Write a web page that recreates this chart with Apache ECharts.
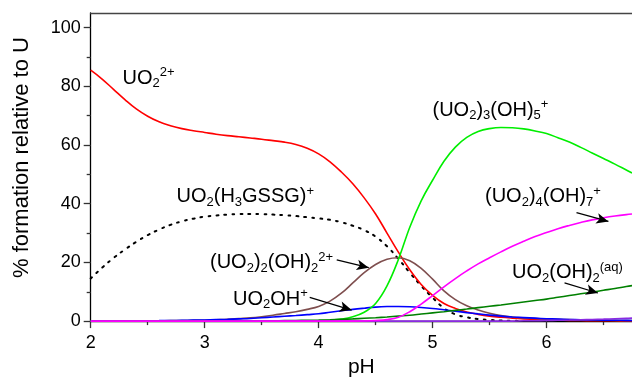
<!DOCTYPE html>
<html><head><meta charset="utf-8">
<script src="https://cdn.jsdelivr.net/npm/echarts@6/dist/echarts.min.js"></script>
<style>html,body{margin:0;padding:0;background:#fff}#c{width:632px;height:383px}</style>
</head><body><div id="c"></div>
<script>
// pH grid shared by all species
const pH = [2.0,2.1,2.2,2.3,2.4,2.5,2.6,2.7,2.8,2.9,
            3.0,3.1,3.2,3.3,3.4,3.5,3.6,3.7,3.8,3.9,
            4.0,4.1,4.2,4.3,4.4,4.5,4.6,4.7,4.8,4.9,
            5.0,5.1,5.2,5.3,5.4,5.5,5.6,5.7,5.8,5.9,
            6.0,6.1,6.2,6.3,6.4,6.5,6.6,6.7,6.75];
// % formation relative to U
const UO2 = [85.5,82.5,79,75.5,72.3,69.8,67.9,66.6,65.6,64.9,
             64.3,63.7,63.2,62.8,62.4,62,61.5,61,60.2,58.9,
             57,54.3,50.8,46.8,42,36.5,30,23.5,17.5,12.5,
             8.8,6,4.3,3.1,2.3,1.7,1.3,1,0.75,0.55,
             0.42,0.32,0.25,0.2,0.15,0.12,0.1,0.08,0.07];
const UO2H3GSSG = [14.5,18.2,21.5,24.4,27,29.3,31.2,32.8,34,34.9,
             35.6,36,36.3,36.45,36.5,36.45,36.3,36.1,35.8,35.4,
             35,34.5,33.7,32.5,31,28.8,25.5,21.2,16.5,12,
             8,4.4,2.3,1.3,0.7,0.4,0.2,0.1,0.05,0,
             0,0,0,0,0,0,0,0,0];
const UO22OH2 = [0,0,0.02,0.03,0.05,0.07,0.1,0.15,0.2,0.25,
             0.3,0.45,0.6,0.85,1.1,1.5,2,2.6,3.2,4,
             5,6.8,9.5,13,16.5,19.3,21.1,21.6,20.6,18,
             14.3,10.3,7.3,5.2,3.8,2.7,1.9,1.4,1.1,0.9,
             0.7,0.6,0.5,0.42,0.35,0.3,0.25,0.2,0.2];
const UO2OH = [0.05,0.06,0.07,0.08,0.1,0.12,0.15,0.2,0.25,0.32,
             0.4,0.5,0.6,0.75,0.9,1.15,1.4,1.65,1.9,2.2,
             2.5,3,3.5,4,4.4,4.75,4.95,5,4.9,4.65,
             4.3,3.85,3.4,2.9,2.45,2.05,1.7,1.42,1.2,1,
             0.82,0.68,0.56,0.47,0.4,0.34,0.29,0.25,0.23];
const UO23OH5 = [0,0,0,0,0,0,0,0,0,0,
             0,0,0,0,0,0,0,0,0,0.05,
             0.1,0.3,0.7,1.5,3,6,12,21,32,41,
             48,54.5,59.3,62.6,64.6,65.6,66,65.9,65.5,64.8,
             63.9,62.5,61,59.2,57.3,55.4,53.5,51.5,50.5];
const UO2OH2aq = [0,0,0,0,0,0,0,0,0,0,
             0.02,0.03,0.05,0.06,0.08,0.1,0.12,0.16,0.2,0.27,
             0.35,0.45,0.6,0.75,0.95,1.15,1.4,1.7,2,2.4,
             2.8,3.2,3.65,4.1,4.6,5.05,5.5,6,6.5,7,
             7.5,8.1,8.7,9.3,9.9,10.5,11.1,11.8,12.1];
const UO24OH7 = [0,0,0,0,0,0,0,0,0,0,
             0,0,0,0,0,0,0,0,0,0,
             0,0,0,0,0.05,0.2,0.5,1.3,3.2,5.8,
             8.7,11.7,14.5,17.1,19.5,21.6,23.6,25.5,27.2,28.8,
             30.2,31.5,32.6,33.6,34.5,35.2,35.8,36.3,36.5];
const minorSp = [0,0,0,0,0,0,0,0,0,0,
             0,0,0,0,0,0,0,0,0,0,
             0,0,0,0,0,0,0,0,0,0,
             0,0,0,0,0,0,0,0,0.1,0.13,
             0.2,0.27,0.35,0.45,0.55,0.67,0.8,0.93,1.0];
// axis ticks
const xMajor = [2,3,4,5,6];
const xMinor = [2.5,3.5,4.5,5.5,6.5];
const yMajor = [0,20,40,60,80,100];
const yMinor = [10,30,50,70,90];

const FONT = "'Liberation Sans', Arial, Helvetica, sans-serif";
const pts = ys => pH.map((x,i)=>[x, ys[i]]);

const chart = echarts.init(document.getElementById('c'), null, {renderer:'canvas'});

function line(name, data, color, extra) {
  return Object.assign({
    name, type:'line', data: pts(data), showSymbol:false, symbol:'none',
    smooth:0.4,
    lineStyle:{color, width:1.6}, itemStyle:{color}, silent:true, z:3
  }, extra||{});
}

const arrows = [
  [[4.159,20.85],[4.44,18.2]],
  [[3.922,8.07],[4.29,3.75]],
  [[6.263,36.95],[6.543,33.96]],
  [[6.158,13.05],[6.451,9.56]]
];

const rich = {
  b:{fontSize:20, lineHeight:24, fontFamily:FONT, fill:'#000', color:'#000'},
  sub:{fontSize:13, lineHeight:9, verticalAlign:'bottom', fontFamily:FONT, fill:'#000', color:'#000'},
  sup:{fontSize:13, lineHeight:11, verticalAlign:'top', fontFamily:FONT, fill:'#000', color:'#000'}
};
const labels = [
  ['{b|UO}{sub|2}{sup|2+}', 122.5, 66],
  ['{b|UO}{sub|2}{b|(H}{sub|3}{b|GSSG)}{sup|+}', 176.5, 184.5],
  ['{b|(UO}{sub|2}{b|)}{sub|2}{b|(OH)}{sub|2}{sup|2+}', 210, 250.5],
  ['{b|UO}{sub|2}{b|OH}{sup|+}', 233, 287],
  ['{b|(UO}{sub|2}{b|)}{sub|3}{b|(OH)}{sub|5}{sup|+}', 432.5, 98],
  ['{b|(UO}{sub|2}{b|)}{sub|4}{b|(OH)}{sub|7}{sup|+}', 485, 184.5],
  ['{b|UO}{sub|2}{b|(OH)}{sub|2}{sup|(aq)}', 512, 260.5]
];

const option = {
  animation:false,
  backgroundColor:'#fff',
  grid:{left:90.7, right:0, top:13, bottom:53.7, containLabel:false},
  xAxis:[
    {type:'value', min:2, max:6.75, position:'bottom',
     axisLine:{show:true, onZero:false, lineStyle:{color:'#000', width:1.3}},
     axisTick:{show:true, customValues:xMajor, length:7, lineStyle:{color:'#333', width:1.3}},
     axisLabel:{show:true, customValues:xMajor, fontSize:18, color:'#000', margin:13, fontFamily:FONT},
     splitLine:{show:false},
     name:'pH', nameLocation:'middle', nameGap:32, nameTextStyle:{fontSize:21, color:'#000', fontFamily:FONT}},
    {type:'value', min:2, max:6.75, position:'bottom',
     axisLine:{show:false, onZero:false},
     axisTick:{show:true, customValues:xMinor, length:4, lineStyle:{color:'#333', width:1.3}},
     axisLabel:{show:false}, splitLine:{show:false}},
    {type:'value', min:2, max:6.75, position:'top',
     axisLine:{show:true, onZero:false, lineStyle:{color:'#444', width:1.3}},
     axisTick:{show:false}, axisLabel:{show:false}, splitLine:{show:false}}
  ],
  yAxis:[
    {type:'value', min:0, max:105, position:'left',
     axisLine:{show:true, onZero:false, lineStyle:{color:'#000', width:1.3}},
     axisTick:{show:true, customValues:yMajor, length:7, lineStyle:{color:'#333', width:1.3}},
     axisLabel:{show:true, customValues:yMajor, fontSize:18, color:'#000', margin:10, fontFamily:FONT},
     splitLine:{show:false},
     name:'% formation relative to U', nameLocation:'middle', nameGap:58,
     nameTextStyle:{fontSize:22, color:'#000', fontFamily:FONT, padding:[0,0,0,19]}},
    {type:'value', min:0, max:105, position:'left',
     axisLine:{show:false, onZero:false},
     axisTick:{show:true, customValues:yMinor, length:4, lineStyle:{color:'#333', width:1.3}},
     axisLabel:{show:false}, splitLine:{show:false}}
  ],
  series:[
    line('UO2(H3GSSG)+', UO2H3GSSG, '#000', {lineStyle:{color:'#000', width:2, type:[1.8,6.2], cap:'round'},
      markLine:{silent:true, symbol:['none','arrow'], symbolSize:[8,12], label:{show:false},
        lineStyle:{color:'#000', width:1.2, type:'solid'}, emphasis:{disabled:true},
        data: arrows.map(a=>[{coord:a[0]},{coord:a[1]}])}}),
    line('UO2 2+', UO2, '#ff0000'),
    line('(UO2)2(OH)2 2+', UO22OH2, '#7f4f4f'),
    line('UO2OH+', UO2OH, '#0000ff'),
    line('(UO2)3(OH)5+', UO23OH5, '#00ee00'),
    line('UO2(OH)2(aq)', UO2OH2aq, '#008000'),
    line('minor', minorSp, '#8a2be2'),
    line('(UO2)4(OH)7+', UO24OH7, '#ff00ff')
  ],
  graphic: labels.map(l=>({type:'text', x:l[1], y:l[2], silent:true, z:10,
    style:{text:l[0], rich, textAlign:'left', textVerticalAlign:'top', verticalAlign:'top', fontFamily:FONT, fill:'#000'}}))
};
chart.setOption(option);
</script></body></html>
